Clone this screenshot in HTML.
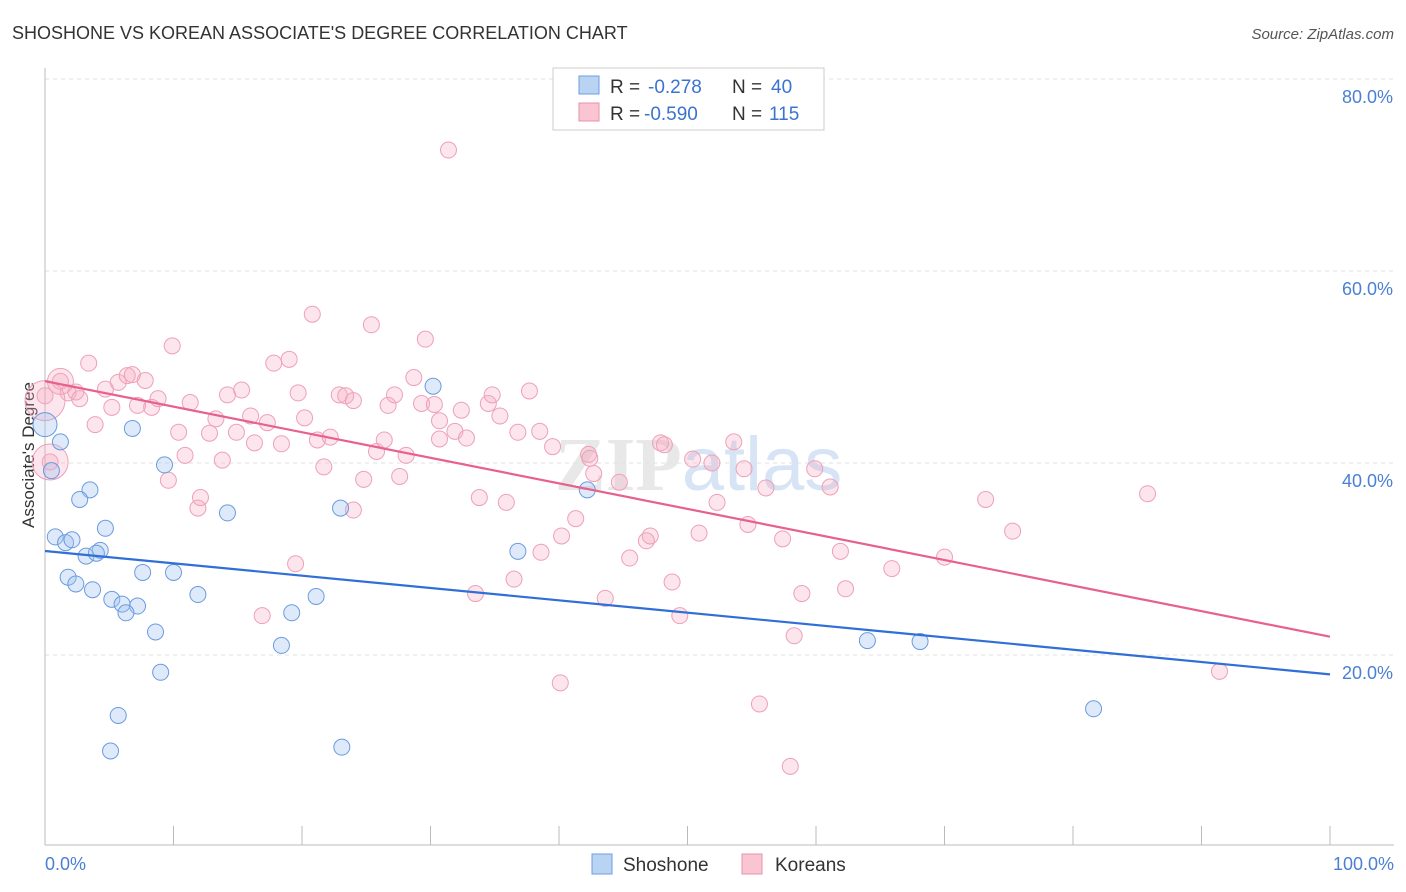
<!DOCTYPE html>
<html><head><meta charset="utf-8"><style>
body{margin:0;background:#fff;font-family:"Liberation Sans",sans-serif}
svg{display:block}
</style></head><body>
<svg id="c" width="1406" height="892">
<text x="12" y="39" font-size="18" fill="#333">SHOSHONE VS KOREAN ASSOCIATE'S DEGREE CORRELATION CHART</text>
<text x="1394" y="39" font-size="15" fill="#555" font-style="italic" text-anchor="end">Source: ZipAtlas.com</text>
<text x="555" y="490" font-size="76" fill="#e8e8e8" font-family="Liberation Serif" font-weight="bold">ZIP<tspan fill="#d6e4f5" font-family="Liberation Sans" font-weight="normal">atlas</tspan></text>
<g id="grid"></g>
<line x1="45" y1="68" x2="45" y2="845" stroke="#bbb"/>
<line x1="45" y1="845" x2="1394" y2="845" stroke="#bbb"/>
<text transform="translate(34,455) rotate(-90)" font-size="17" fill="#333" text-anchor="middle">Associate's Degree</text>
<text x="45" y="870" font-size="18" fill="#4a7fd4">0.0%</text>
<text x="1394" y="870" font-size="18" fill="#4a7fd4" text-anchor="end">100.0%</text>
<g id="pts"></g>
<g>
<rect x="553" y="68" width="271" height="62" fill="#fff" stroke="#ccc"/>
<rect x="579" y="76" width="20" height="18" fill="#b9d3f3" stroke="#6d9fe0"/>
<text x="610" y="93" font-size="19" fill="#333">R =</text>
<text x="648" y="93" font-size="19" fill="#3b73d0">-0.278</text>
<text x="732" y="93" font-size="19" fill="#333">N =</text>
<text x="771" y="93" font-size="19" fill="#3b73d0">40</text>
<rect x="579" y="103" width="20" height="18" fill="#f9c5d3" stroke="#ec8fab"/>
<text x="610" y="120" font-size="19" fill="#333">R =</text>
<text x="644" y="120" font-size="19" fill="#3b73d0">-0.590</text>
<text x="732" y="120" font-size="19" fill="#333">N =</text>
<text x="769" y="120" font-size="19" fill="#3b73d0">115</text>
</g>
<g>
<rect x="592" y="854" width="20" height="20" fill="#b9d3f3" stroke="#6d9fe0"/>
<text x="623" y="871" font-size="19" fill="#333">Shoshone</text>
<rect x="742" y="854" width="20" height="20" fill="#f9c5d3" stroke="#ec8fab"/>
<text x="775" y="871" font-size="19" fill="#333">Koreans</text>
</g>
</svg>
<script>
const yTicks=[20,40,60,80];
const xTicks=[0,10,20,30,40,50,60,70,80,90,100];
const shoshoneX=[0,1.2,0.5,0.8,1.6,2.1,3.5,2.7,4.7,3.2,4.3,4.0,1.8,2.4,3.7,5.2,6.0,7.2,6.3,7.6,10,11.9,8.6,9,5.7,5.1,6.8,9.3,14.2,19.2,21.1,18.4,23,23.1,30.2,36.8,42.2,64,68.1,81.6];
const shoshoneY=[44,42.2,39.2,32.3,31.7,32,37.2,36.2,33.2,30.3,30.9,30.6,28.1,27.4,26.8,25.8,25.3,25.1,24.4,28.6,28.6,26.3,22.4,18.2,13.7,10,43.6,39.8,34.8,24.4,26.1,21,35.3,10.4,48,30.8,37.2,21.5,21.4,14.4];
const koreanX=[1.2,0,0.4,1.8,2.4,3.4,3.9,2.7,4.7,5.2,5.7,6.4,6.8,7.8,7.2,8.3,8.8,9.9,9.6,10.4,10.9,11.3,11.9,12.1,12.8,13.3,13.8,14.2,14.9,15.3,16,16.3,17.3,17.8,18.4,19,19.7,20.2,20.8,21.2,21.7,22.2,22.9,23.4,24,24,24.8,25.4,25.8,26.4,26.7,27.2,27.6,28.1,28.7,29.3,29.6,30.3,30.7,31.4,31.9,32.4,32.8,33.5,33.8,34.5,34.8,35.4,35.9,36.5,36.8,37.7,38.5,38.6,39.5,40.1,40.2,41.3,42.3,42.7,43.6,45.5,46.8,47.1,47.9,48.2,48.8,49.4,50.4,50.9,51.9,52.3,53.6,54.4,54.7,55.6,56.1,57.4,58.3,58,58.9,59.9,61.1,61.9,62.3,65.9,70,73.2,75.3,85.8,91.4,30.7,19.5,16.9,42.4,44.7];
const koreanY=[48.5,47,40.1,47.3,47.4,50.4,44,46.7,47.7,45.8,48.4,49.1,49.2,48.6,46,45.8,46.7,52.2,38.2,43.2,40.8,46.3,35.3,36.4,43.1,44.6,40.3,47.1,43.2,47.6,44.9,42.1,44.2,50.4,42,50.8,47.3,44.7,55.5,42.4,39.6,42.7,47.1,47,46.5,35.1,38.3,54.4,41.2,42.4,46,47.1,38.6,40.8,48.9,46.2,52.9,46.1,42.5,72.6,43.3,45.5,42.6,26.4,36.4,46.2,47.1,44.9,35.9,27.9,43.2,47.5,43.3,30.7,41.7,17.1,32.4,34.2,40.9,38.9,25.9,30.1,31.9,32.4,42.1,41.9,27.6,24.1,40.4,32.7,40,35.9,42.2,39.4,33.6,14.9,37.4,32.1,22,8.4,26.4,39.4,37.5,30.8,26.9,29,30.2,36.2,32.9,36.8,18.3,44.4,29.5,24.1,40.5,38
];
const bigK=[[1.2,48.5,13],[0,46.5,20],[0.4,40.1,18]];
const xs=v=>45+v*12.85, ys=v=>847-v*9.6;
const NS='http://www.w3.org/2000/svg';
const grid=document.getElementById('grid'), pts=document.getElementById('pts');
function mk(tag,attrs,parent){const e=document.createElementNS(NS,tag);for(const k in attrs)e.setAttribute(k,attrs[k]);parent.appendChild(e);return e;}
yTicks.forEach(t=>{
 const l=mk('line',{x1:45,x2:1394,y1:ys(t),y2:ys(t),stroke:'#e2e2e2','stroke-dasharray':'4,4'},grid);
 
 
 const tx=mk('text',{x:1393,y:ys(t)+24,'font-size':18,fill:'#4a7fd4','text-anchor':'end'},grid);
 tx.textContent=t.toFixed(1)+'%';
 
 
});
xTicks.forEach(t=>{
 const l=mk('line',{x1:xs(t),x2:xs(t),y1:826,y2:845,stroke:'#bbb'},grid);
 
 
});
koreanX.forEach((x,i)=>{
 const c=mk('circle',{cx:xs(x),cy:ys(koreanY[i]),r:8,fill:'rgba(246,170,192,0.3)',stroke:'#eea0b8','stroke-width':1},pts);
 
 
});
bigK.forEach(b=>{
 const c=mk('circle',{cx:xs(b[0]),cy:ys(b[1]),r:b[2],fill:'rgba(246,170,192,0.3)',stroke:'#eea0b8'},pts);
 
 
});
shoshoneX.forEach((x,i)=>{
 const c=mk('circle',{cx:xs(x),cy:ys(shoshoneY[i]),r:i==0?12:8,fill:'rgba(160,196,240,0.35)',stroke:'#6a9bdf','stroke-width':1},pts);
 
 
});
function trend(X,Y,col,name){
 const n=X.length;let mx=0,my=0;X.forEach((v,i)=>{mx+=v;my+=Y[i]});mx/=n;my/=n;
 let sxy=0,sxx=0;X.forEach((v,i)=>{sxy+=(v-mx)*(Y[i]-my);sxx+=(v-mx)**2});
 const b=sxy/sxx,a=my-b*mx;
 const l=mk('line',{x1:xs(0),y1:ys(a),x2:xs(100),y2:ys(a+100*b),stroke:col,'stroke-width':2.2},pts);
 
 
}
trend(shoshoneX,shoshoneY,'#2f6fd6','shoshone-trend-line');
trend(koreanX,koreanY,'#e8608e','korean-trend-line');
</script>
</body></html>
